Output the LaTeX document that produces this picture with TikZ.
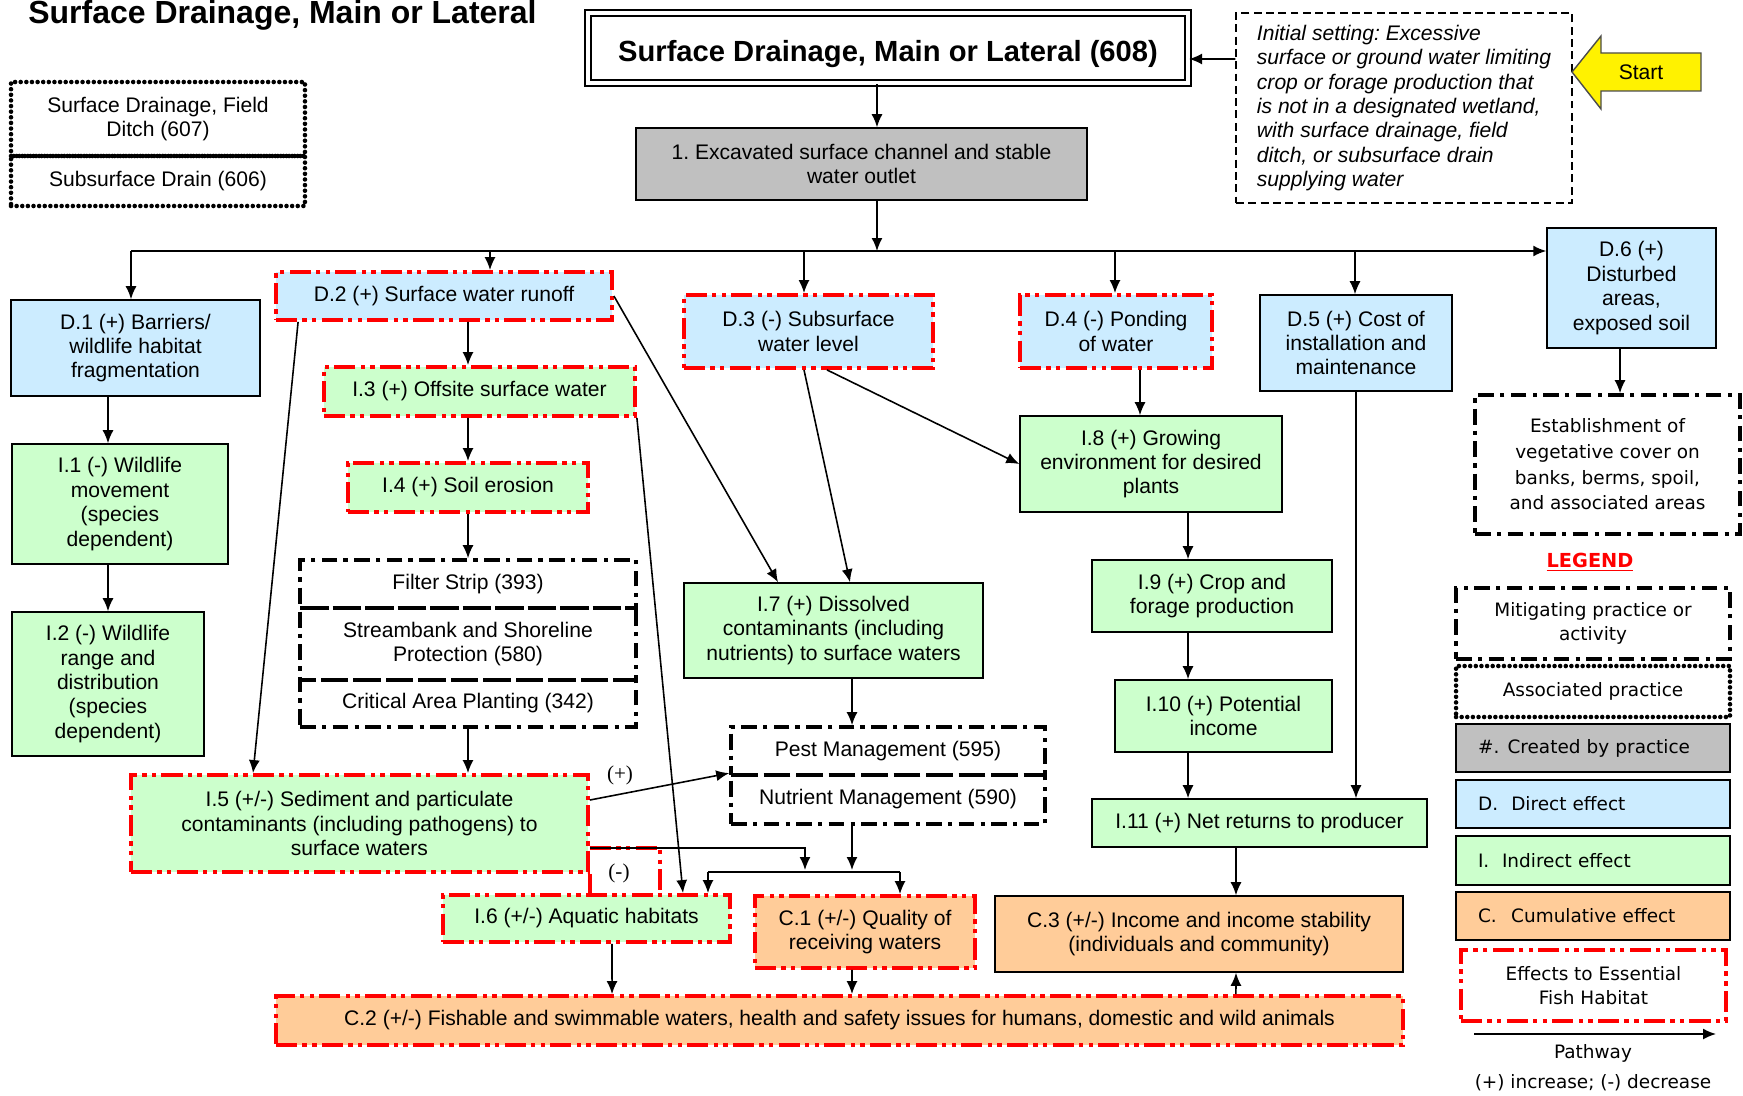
\documentclass[tikz,border=0pt]{standalone}
\usepackage{fontspec}
\setmainfont{Liberation Sans}
\newfontfamily\vfont{DejaVu Sans}
\newfontfamily\tfont{Liberation Serif}
\usepackage{xcolor}
\usepackage{tikz}
\usetikzlibrary{arrows.meta, positioning}
\frenchspacing

\definecolor{dirblue}{HTML}{CCECFF}
\definecolor{indgreen}{HTML}{CCFFCC}
\definecolor{cumorange}{HTML}{FFCC99}
\definecolor{prgray}{HTML}{C0C0C0}

\tikzstyle{box} = [rectangle, draw=black, line width=0.9pt, align=center, inner sep=0pt, font=\fontsize{12}{13.9}\selectfont]
\tikzstyle{direct} = [box, fill=dirblue]
\tikzstyle{indirect} = [box, fill=indgreen]
\tikzstyle{cumul} = [box, fill=cumorange]
\tikzstyle{created} = [box, fill=prgray]
\tikzstyle{efh} = [draw=red, line width=2.2pt, dash pattern=on 12pt off 3pt on 2.5pt off 3pt on 2.5pt off 3pt]
\tikzstyle{mitig} = [box, line width=2.1pt, dash pattern=on 9pt off 3.5pt on 2.5pt off 3.5pt]
\tikzstyle{assoc} = [box, line width=2.6pt, line cap=round, dash pattern=on 0pt off 3.2pt]
\tikzstyle{lgfont} = [font=\vfont\fontsize{10.5}{13.5}\selectfont]
\tikzstyle{arrow} = [line width=0.9pt, -{Latex[length=2.6mm,width=2.2mm]}]
\tikzstyle{signlbl} = [inner sep=0pt, font=\tfont\fontsize{12}{14}\selectfont]

\begin{document}
\begin{tikzpicture}[x=0.02cm, y=-0.02cm]
\useasboundingbox (0,0) rectangle (1743,1095);

% Title and practice
\node[anchor=base west, inner sep=0pt, font=\fontsize{18.2}{22}\selectfont\bfseries] (title) at (28,24) {Surface Drainage, Main or Lateral};
\node[box, double, double distance=2pt, line width=1.3pt, minimum width=12.0cm, minimum height=1.4cm, font=\fontsize{16.6}{20}\selectfont\bfseries] (main) at (888,48) {\raisebox{-7.5pt}[0pt][0pt]{Surface Drainage, Main or Lateral (608)}};
\node[box, line width=0.8pt, dash pattern=on 4.5pt off 2.5pt, minimum width=6.72cm, minimum height=3.8cm, align=left, font=\fontsize{12}{13.9}\selectfont\itshape] (init) at (1404,108) {Initial setting: Excessive\\surface or ground water limiting\\crop or forage production that\\is not in a designated wetland,\\with surface drainage, field\\ditch, or subsurface drain\\supplying water};
\draw[fill=yellow, draw=black!70, line width=0.8pt] (1701,53) -- (1601,53) -- (1601,36) -- (1572,72) -- (1601,109) -- (1601,91) -- (1701,91) -- cycle;
\node[font=\fontsize{12}{13.9}\selectfont] (start) at (1641,72) {Start};

\node[assoc, minimum width=5.88cm, minimum height=1.48cm] (p607) at (158,119) {Surface Drainage, Field\\Ditch (607)};
\node[assoc, minimum width=5.88cm, minimum height=1.0cm] (p606) at (158,181) {Subsurface Drain (606)};

\node[created, minimum width=9.02cm, minimum height=1.44cm] (exc) at (861.5,164) {1. Excavated surface channel and stable\\water outlet};

% Direct effects
\node[direct, minimum width=4.98cm, minimum height=1.92cm] (d1) at (135.5,348) {D.1 (+) Barriers/\\wildlife habitat\\fragmentation};
\node[direct, efh, minimum width=6.72cm, minimum height=0.96cm] (d2) at (444,296) {D.2 (+) Surface water runoff};
\node[direct, efh, minimum width=4.98cm, minimum height=1.46cm] (d3) at (808.5,331.5) {D.3 (-) Subsurface\\water level};
\node[direct, efh, minimum width=3.84cm, minimum height=1.46cm] (d4) at (1116,331.5) {D.4 (-) Ponding\\of water};
\node[direct, minimum width=3.84cm, minimum height=1.92cm] (d5) at (1356,343) {D.5 (+) Cost of\\installation and\\maintenance};
\node[direct, minimum width=3.38cm, minimum height=2.4cm] (d6) at (1631.5,288) {D.6 (+)\\Disturbed\\areas,\\exposed soil};

% Indirect effects
\node[indirect, minimum width=4.32cm, minimum height=2.4cm] (i1) at (120,504) {I.1 (-) Wildlife\\movement\\(species\\dependent)};
\node[indirect, minimum width=3.84cm, minimum height=2.88cm] (i2) at (108,684) {I.2 (-) Wildlife\\range and\\distribution\\(species\\dependent)};
\node[indirect, efh, minimum width=6.22cm, minimum height=0.98cm] (i3) at (479.5,391.5) {I.3 (+) Offsite surface water};
\node[indirect, efh, minimum width=4.8cm, minimum height=0.98cm] (i4) at (468,487.5) {I.4 (+) Soil erosion};
\node[indirect, efh, minimum width=9.14cm, minimum height=1.94cm] (i5) at (359.5,823.5) {I.5 (+/-) Sediment and particulate\\contaminants (including pathogens) to\\surface waters};
\node[indirect, efh, minimum width=5.74cm, minimum height=0.94cm] (i6) at (586.5,918.5) {I.6 (+/-) Aquatic habitats};
\node[indirect, minimum width=5.98cm, minimum height=1.9cm] (i7) at (833.5,630.5) {I.7 (+) Dissolved\\contaminants (including\\nutrients) to surface waters};
\node[indirect, minimum width=5.24cm, minimum height=1.92cm] (i8) at (1151,464) {I.8 (+) Growing\\environment for desired\\plants};
\node[indirect, minimum width=4.8cm, minimum height=1.44cm] (i9) at (1212,596) {I.9 (+) Crop and\\forage production};
\node[indirect, minimum width=4.34cm, minimum height=1.44cm] (i10) at (1223.5,716) {I.10 (+) Potential\\income};
\node[indirect, minimum width=6.7cm, minimum height=0.96cm] (i11) at (1259.5,823) {I.11 (+) Net returns to producer};

% Mitigating practices
\node[mitig, minimum width=6.72cm, minimum height=0.96cm] (filter) at (468,584) {Filter Strip (393)};
\node[mitig, minimum width=6.72cm, minimum height=1.44cm] (streamb) at (468,644) {Streambank and Shoreline\\Protection (580)};
\node[mitig, minimum width=6.72cm, minimum height=0.94cm] (crit) at (468,703.5) {Critical Area Planting (342)};
\node[mitig, minimum width=6.28cm, minimum height=0.96cm] (pest) at (888,751) {Pest Management (595)};
\node[mitig, minimum width=6.28cm, minimum height=0.98cm] (nutr) at (888,799.5) {Nutrient Management (590)};
\node[mitig, minimum width=5.3cm, minimum height=2.78cm, font=\vfont\fontsize{10.5}{14.6}\selectfont] (estab) at (1607.5,464.5) {Establishment of\\vegetative cover on\\banks, berms, spoil,\\and associated areas};

% Cumulative effects
\node[cumul, efh, minimum width=4.4cm, minimum height=1.44cm] (c1) at (865,932) {C.1 (+/-) Quality of\\receiving waters};
\node[cumul, efh, minimum width=22.54cm, minimum height=0.98cm] (c2) at (839.5,1020.5) {C.2 (+/-) Fishable and swimmable waters, health and safety issues for humans, domestic and wild animals};
\node[cumul, minimum width=8.16cm, minimum height=1.52cm] (c3) at (1199,934) {C.3 (+/-) Income and income stability\\(individuals and community)};

% Arrows
\draw[arrow] ([yshift=0.98cm]init.west) -- ([yshift=-0.22cm]main.east);
\draw[arrow] ([xshift=-0.22cm]main.south) -- ([xshift=0.31cm]exc.north);
\coordinate (bus) at (877,251);
\draw[arrow] ([xshift=0.31cm]exc.south) -- (bus);
\coordinate (busL) at (131,251);
\coordinate (bus2) at (490,251);
\coordinate (bus3) at (804,251);
\coordinate (bus4) at (1115,251);
\coordinate (bus5) at (1355,251);
\draw[arrow] (busL) -- (busL -| d6.west);
\draw[arrow] (busL) -- (busL |- d1.north);
\draw[arrow] (bus2) -- (bus2 |- d2.north);
\draw[arrow] (bus3) -- (bus3 |- d3.north);
\draw[arrow] (bus4) -- (bus4 |- d4.north);
\draw[arrow] (bus5) -- (bus5 |- d5.north);

\draw[arrow] ([xshift=-0.55cm]d1.south) -- ([xshift=-0.24cm]i1.north);
\draw[arrow] ([xshift=-0.24cm]i1.south) -- (i2.north);
\draw[arrow] ([xshift=0.48cm]d2.south) -- ([xshift=-0.23cm]i3.north);
\draw[arrow] ([xshift=-0.23cm]i3.south) -- (i4.north);
\draw[arrow] (i4.south) -- (filter.north);
\draw[arrow] (crit.south) -- ([xshift=2.17cm]i5.north);
\draw[arrow] ([xshift=0.48cm]d2.south west) -- ([xshift=-2.13cm]i5.north);
\draw[arrow] (d2.east) -- ([xshift=-1.11cm]i7.north);
\draw[arrow] (i3.south east) -- ([xshift=1.93cm]i6.north);
\draw[arrow] ([xshift=-0.09cm]d3.south) -- ([xshift=0.33cm]i7.north);
\draw[arrow] ([xshift=0.37cm]d3.south) -- (i8.west);
\draw[arrow] ([xshift=0.48cm]d4.south) -- ([xshift=-0.22cm]i8.north);
\draw[arrow] ([xshift=0.74cm]i8.south) -- ([xshift=-0.48cm]i9.north);
\draw[arrow] ([xshift=-0.48cm]i9.south) -- ([xshift=-0.71cm]i10.north);
\draw[arrow] ([xshift=-0.71cm]i10.south) -- ([xshift=-1.43cm]i11.north);
\draw[arrow] (d5.south) -- ([xshift=1.93cm]i11.north);
\draw[arrow] ([xshift=-0.47cm]i11.south) -- ([xshift=0.74cm]c3.north);
\draw[arrow] ([xshift=7.93cm]c2.north) -- ([xshift=0.74cm]c3.south);
\draw[arrow] ([xshift=0.37cm]i7.south) -- ([xshift=-0.72cm]pest.north);
\draw[arrow] ([xshift=-0.26cm]c1.south) -- ([xshift=0.25cm]c2.north);
\draw[arrow] ([xshift=0.51cm]i6.south) -- ([xshift=-4.55cm]c2.north);
\draw[arrow] ([xshift=-0.23cm]d6.south) -- ([xshift=0.25cm]estab.north);

% I.5 / I.6 / C.1 junction
\coordinate (efhc) at (660,848);
\draw[efh] (i5.south east) -- (i5.south east |- i6.north);
\draw[efh] ([yshift=-0.49cm]i5.east) -| (efhc |- i6.north);
\draw[arrow] ([yshift=0.47cm]i5.east) -- (nutr.north west);
\node[signlbl] (plus) at (620,775) {(+)};
\node[signlbl] (minus) at (619,873) {(-)};
\coordinate (jA) at (805,870);
\coordinate (jB) at (852,870);
\coordinate (barL) at (708,872);
\coordinate (barR) at (900,872);
\draw[arrow] ([yshift=-0.49cm]i5.east) -| (jA);
\draw[arrow] ([xshift=-0.72cm]nutr.south) -- (jB);
\draw[line width=0.9pt] (barL) -- (barR);
\draw[arrow] (barL) -- (barL |- i6.north);
\draw[arrow] (barR) -- (barR |- c1.north);

% Legend
\node[lgfont, text=red, font=\vfont\bfseries\fontsize{11}{13}\selectfont] (lgtitle) at (1590,562) {\underline{LEGEND}};
\node[mitig, lgfont, minimum width=5.48cm, minimum height=1.42cm] (lgmit) at (1593,623.5) {Mitigating practice or\\activity};
\node[assoc, lgfont, minimum width=5.48cm, minimum height=1.02cm] (lgass) at (1593,691.5) {Associated practice};
\node[created, lgfont, minimum width=5.48cm, minimum height=0.96cm, text width=4.6cm, align=left] (lgcre) at (1593,748) {\makebox[1.6em][l]{\#.}Created by practice};
\node[direct, lgfont, minimum width=5.48cm, minimum height=0.96cm, text width=4.6cm, align=left] (lgdir) at (1593,804) {\makebox[1.8em][l]{D.}Direct effect};
\node[indirect, lgfont, minimum width=5.48cm, minimum height=0.98cm, text width=4.6cm, align=left] (lgind) at (1593,860.5) {\makebox[1.3em][l]{I.}Indirect effect};
\node[cumul, lgfont, minimum width=5.48cm, minimum height=0.96cm, text width=4.6cm, align=left] (lgcum) at (1593,916) {\makebox[1.8em][l]{C.}Cumulative effect};
\node[box, efh, lgfont, minimum width=5.3cm, minimum height=1.42cm] (lgefh) at (1593.5,985.5) {Effects to Essential\\Fish Habitat};
\coordinate (pw1) at (1474,1034);
\coordinate (pw2) at (1716,1034);
\draw[arrow] (pw1) -- (pw2);
\node[lgfont] (pwlbl) at (1593,1053) {Pathway};
\node[lgfont] (pmlbl) at (1593,1083) {(+) increase; (-) decrease};
\end{tikzpicture}
\end{document}
